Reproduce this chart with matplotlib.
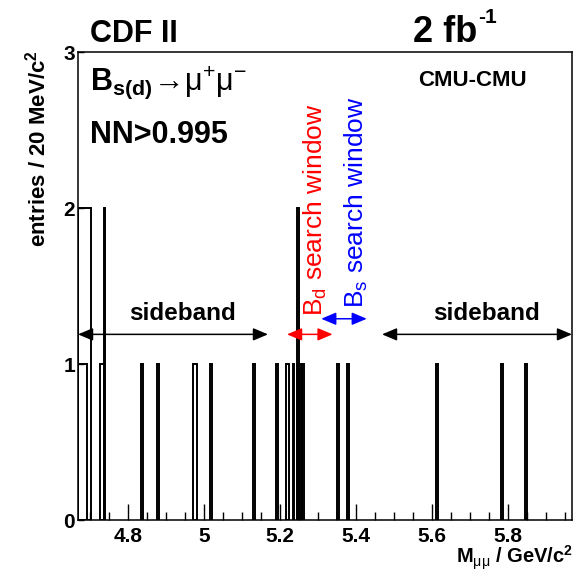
import matplotlib
matplotlib.use("Agg")
import matplotlib.pyplot as plt
from matplotlib.ticker import MultipleLocator

plt.rcParams['font.family'] = ['Liberation Sans', 'DejaVu Sans']
plt.rcParams['mathtext.fontset'] = 'custom'
plt.rcParams['mathtext.rm'] = 'Liberation Sans'
plt.rcParams['mathtext.bf'] = 'Liberation Sans:bold'
plt.rcParams['mathtext.it'] = 'Liberation Sans:italic'

# histogram bins: left edge (GeV/c^2), width, entries
bin_lo = [4.669, 4.669, 4.727, 4.7365, 4.834, 4.8775, 4.9715, 5.0165, 5.1305,
          5.1895, 5.2155, 5.2335, 5.2465, 5.2465, 5.2525, 5.2585, 5.3515,
          5.3765, 5.6105, 5.7815, 5.8445]
bin_w = [0.0345, 0.0225, 0.0105, 0.003, 0.005, 0.005, 0.011, 0.005, 0.005,
         0.005, 0.009, 0.005, 0.003, 0.005, 0.005, 0.005, 0.005,
         0.005, 0.005, 0.005, 0.005]
entries = [2, 1, 1, 2, 1, 1, 1, 1, 1,
           1, 1, 1, 2, 1, 1, 1, 1,
           1, 1, 1, 1]

x_range = [4.669, 5.969]
x_ticks = [4.8, 5.0, 5.2, 5.4, 5.6, 5.8]
x_ticklabels = ['4.8', '5', '5.2', '5.4', '5.6', '5.8']
y_ticks = [0, 1, 2, 3]

# sideband and search windows (GeV/c^2)
sideband_lo = [4.669, 5.169]
sideband_hi = [5.469, 5.969]
bd_window = [5.219, 5.339]
bs_window = [5.309, 5.429]

fig = plt.figure(figsize=(5.85, 5.74), dpi=100)
ax = fig.add_axes([78/585, 1 - 520/574, 494/585, 468/574])

ax.bar(bin_lo, entries, width=bin_w, align='edge', fill=False,
       edgecolor='black', linewidth=1.4)

ax.set_xlim(x_range)
ax.set_ylim(0, 3)
ax.set_xticks(x_ticks)
ax.set_xticklabels(x_ticklabels)
ax.xaxis.set_minor_locator(MultipleLocator(0.05))
ax.set_yticks(y_ticks)
ax.tick_params(axis='x', which='major', direction='in', length=11.5, width=1.0,
               top=False, labelsize=15, pad=5)
ax.tick_params(axis='x', which='minor', direction='in', length=5.8, width=1.0, top=False)
ax.tick_params(axis='y', which='major', direction='in', length=4.5, width=1.0,
               right=False, labelsize=15, pad=2)
for lab in ax.get_xticklabels() + ax.get_yticklabels():
    lab.set_fontweight('bold')
for sp in ax.spines.values():
    sp.set_linewidth(1.1)

# arrows
def arrow(x0, x1, y, color):
    ax.annotate('', xy=(x1, y), xytext=(x0, y),
                arrowprops=dict(arrowstyle='<|-|>,head_length=0.9,head_width=0.38',
                                mutation_scale=10, color=color, lw=1.1,
                                shrinkA=0, shrinkB=0))

arrow(sideband_lo[0], sideband_lo[1], 1.19, 'black')
arrow(sideband_hi[0], sideband_hi[1], 1.19, 'black')
arrow(bd_window[0], bd_window[1], 1.19, 'red')
arrow(bs_window[0], bs_window[1], 1.29, 'blue')

ax.text(4.945, 1.28, 'sideband', ha='center', va='baseline', fontsize=17.5, fontweight='bold')
ax.text(5.745, 1.28, 'sideband', ha='center', va='baseline', fontsize=17.5, fontweight='bold')
ax.text(5.2585, 1.308, r'B$_{\mathrm{d}}$ search window', rotation=90, ha='left',
        va='bottom', fontsize=19, color='red')
ax.text(5.3664, 1.359, r'B$_{\mathrm{s}}$ search window', rotation=90, ha='left',
        va='bottom', fontsize=19, color='blue')

# labels
fig.text(90/585, 1 - 42/574, 'CDF II', fontsize=22, fontweight='bold', va='baseline')
fig.text(413/585, 1 - 42/574, '2 fb', fontsize=26, fontweight='bold', va='baseline')
fig.text(478/585, 1 - 23/574, '-1', fontsize=15, fontweight='bold', va='baseline')
fig.text(90/585, 1 - 90/574,
         r'B$_{\mathbf{s(d)}}\!\rightarrow\!\mathrm{\mu}^{+}\mathrm{\mu}^{-}$',
         fontsize=22, fontweight='bold', va='baseline')
fig.text(90/585, 1 - 143/574, 'NN>0.995', fontsize=22, fontweight='bold', va='baseline')
fig.text(472/585, 1 - 86/574, 'CMU-CMU', fontsize=16, fontweight='bold', ha='center',
         va='baseline')
fig.text(38/585, 1 - 50/574, r'entries / 20 MeV/c$^{\mathbf{2}}$', rotation=90,
         fontsize=16, fontweight='bold', ha='center', va='top')
fig.text(573/585, 1 - 564/574, r'M$_{\mathrm{\mu\mu}}$ / GeV/c$^{\mathbf{2}}$', fontsize=14.5,
         fontweight='bold', ha='right', va='baseline')

fig.savefig('out.png', dpi=100)
